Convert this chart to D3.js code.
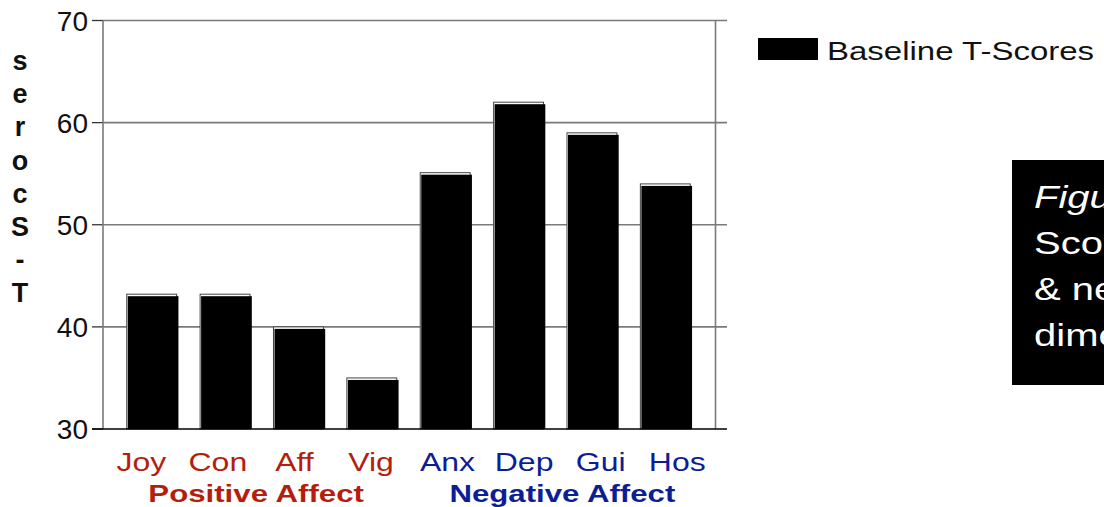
<!DOCTYPE html>
<html>
<head>
<meta charset="utf-8">
<script src="https://cdn.jsdelivr.net/npm/d3@7"></script>
<style>
  html, body { margin: 0; padding: 0; background: #fff; }
  svg { display: block; font-family: "Liberation Sans", Arial, sans-serif; }
</style>
</head>
<body>
<svg id="chart" width="1104" height="507"></svg>
<script>
// ---- data ----
const categories = ["Joy", "Con", "Aff", "Vig", "Anx", "Dep", "Gui", "Hos"];
const baselineTScores = [43.2, 43.2, 40, 35, 55.1, 62, 59, 54];
const categoryGroup = ["pos", "pos", "pos", "pos", "neg", "neg", "neg", "neg"];
const groupLabels = ["Positive Affect", "Negative Affect"];
const yTicks = [30, 40, 50, 60, 70];
const yTitle = "T-Scores";
const legendLabel = "Baseline T-Scores";
const figureLines = ["Figure 1.", "Scores on positive", "& negative affect", "dimensions."];

// ---- layout ----
const svg = d3.select("#chart");
const plot = { left: 103, right: 715.5, top: 20.5, bottom: 429 };
const RED = "#b41e0c", BLUE = "#0c1e96";
const colorOf = g => g === "pos" ? RED : BLUE;

const y = d3.scaleLinear().domain([30, 70]).range([plot.bottom, plot.top]);
const xBars = d3.scaleBand().domain(categories).range([115, 702]).paddingInner(0.32).paddingOuter(0.16);
const xLabels = d3.scaleBand().domain(categories).range([plot.left, plot.right]);

// gridlines
svg.append("g").selectAll("line").data(yTicks.filter(t => t > 30)).join("line")
  .attr("x1", plot.left).attr("x2", 727)
  .attr("y1", d => y(d)).attr("y2", d => y(d))
  .attr("stroke", "#7a7a7a").attr("stroke-width", 1.6);

// left ticks
svg.append("g").selectAll("line").data(yTicks).join("line")
  .attr("x1", 92).attr("x2", plot.left)
  .attr("y1", d => y(d)).attr("y2", d => y(d))
  .attr("stroke", "#333").attr("stroke-width", 1.3);

// axes frame lines
svg.append("line").attr("x1", plot.left).attr("x2", plot.left)
  .attr("y1", plot.top).attr("y2", plot.bottom)
  .attr("stroke", "#7a7a7a").attr("stroke-width", 1.6);
svg.append("line").attr("x1", plot.right).attr("x2", plot.right)
  .attr("y1", plot.top).attr("y2", plot.bottom)
  .attr("stroke", "#7a7a7a").attr("stroke-width", 1.6);

// y tick labels
svg.append("g").selectAll("text").data(yTicks).join("text")
  .attr("x", 88).attr("y", d => y(d))
  .attr("dy", "0.36em")
  .attr("text-anchor", "end")
  .attr("font-size", 28)
  .attr("fill", "#111")
  .text(d => d);

// y title: stacked letters (reversed)
const titleChars = yTitle.split("").reverse();
svg.append("g").selectAll("text").data(titleChars).join("text")
  .attr("x", 20).attr("y", (d, i) => 70 + i * 33.2)
  .attr("text-anchor", "middle")
  .attr("font-size", 27)
  .attr("font-weight", "bold")
  .attr("fill", "#111")
  .text(d => d);

// bars
const barData = categories.map((c, i) => ({ c, v: baselineTScores[i] }));
const bars = svg.append("g");
bars.selectAll("rect.outline").data(barData).join("rect")
  .attr("class", "outline")
  .attr("x", d => xBars(d.c)).attr("y", d => y(d.v))
  .attr("width", xBars.bandwidth()).attr("height", d => plot.bottom - y(d.v))
  .attr("fill", "#fff").attr("stroke", "#444").attr("stroke-width", 1);
bars.selectAll("rect.fill").data(barData).join("rect")
  .attr("class", "fill")
  .attr("x", d => xBars(d.c) + 1)
  .attr("y", d => y(d.v) + 2)
  .attr("width", xBars.bandwidth() + 0.8)
  .attr("height", d => plot.bottom - y(d.v) - 2)
  .attr("fill", "#000");

// bottom axis line
svg.append("line").attr("x1", 92).attr("x2", 727)
  .attr("y1", plot.bottom).attr("y2", plot.bottom)
  .attr("stroke", "#000").attr("stroke-width", 1.6);

// category labels
svg.append("g").selectAll("text").data(categories).join("text")
  .attr("transform", d => `translate(${xLabels(d) + xLabels.bandwidth() / 2},471) scale(1.28,1)`)
  .attr("text-anchor", "middle")
  .attr("font-size", 25)
  .attr("fill", (d, i) => colorOf(categoryGroup[i]))
  .text(d => d);

// group labels
const groups = ["pos", "neg"];
svg.append("g").selectAll("text").data(groups).join("text")
  .attr("transform", g => {
    const idx = categories.filter((c, i) => categoryGroup[i] === g);
    const cx = (xLabels(idx[0]) + xLabels(idx[idx.length - 1]) + xLabels.bandwidth()) / 2;
    return `translate(${cx},502) scale(1.3,1)`;
  })
  .attr("text-anchor", "middle")
  .attr("font-size", 24)
  .attr("font-weight", "bold")
  .attr("fill", g => colorOf(g))
  .text((g, i) => groupLabels[i]);

// legend
svg.append("rect").attr("x", 758).attr("y", 38).attr("width", 60).attr("height", 22).attr("fill", "#000");
svg.append("text")
  .attr("transform", "translate(827,60) scale(1.32,1)")
  .attr("font-size", 25)
  .attr("fill", "#111")
  .text(legendLabel);

// figure caption box (clipped by page edge, as in the reference)
svg.append("rect").attr("x", 1012).attr("y", 160).attr("width", 200).attr("height", 225).attr("fill", "#000");
const cap = svg.append("g");
figureLines.forEach((line, i) => {
  cap.append("text")
    .attr("transform", `translate(1034,${208 + i * 46}) scale(1.25,1)`)
    .attr("font-size", 32)
    .attr("font-style", i === 0 ? "italic" : "normal")
    .attr("fill", "#fff")
    .text(line);
});
</script>
</body>
</html>
